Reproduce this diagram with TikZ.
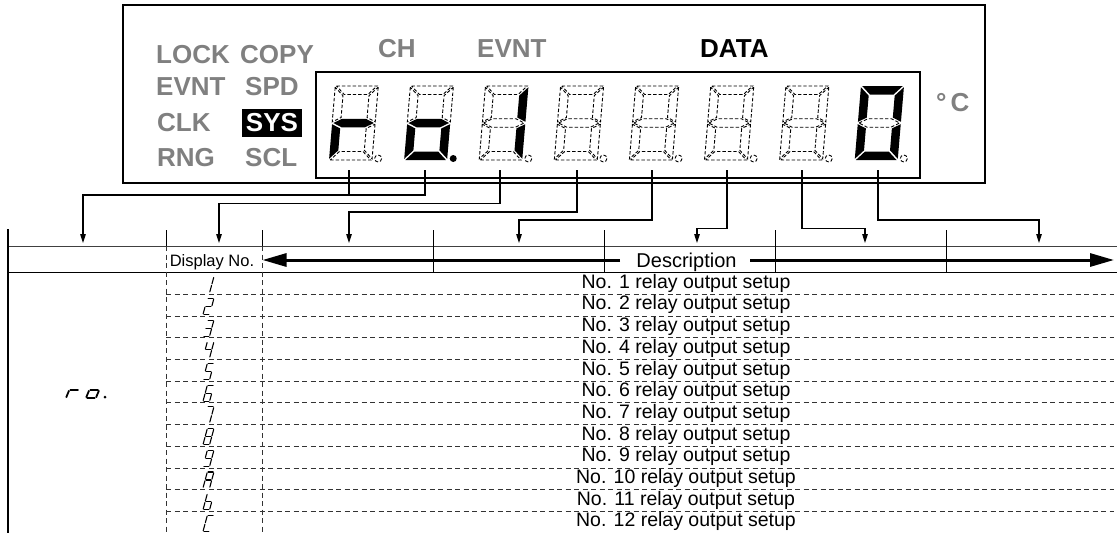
\documentclass[tikz,border=0pt]{standalone}
\usepackage{fontspec}
\setmainfont{Liberation Sans}
\usetikzlibrary{arrows.meta}
\definecolor{lcdgray}{RGB}{128,128,128}
% slanted point for big LCD digits (local y up)
\newcommand\lp[2]{({#1+0.085*(#2)},{-(#2)})}
% slanted point for small table glyphs
\newcommand\q[2]{({#1+0.27*(#2)},{-(#2)})}
\newcommand\SGa{\q{0.8}{16} -- \q{5.8}{16}}
\newcommand\SGb{\q{6.6}{15.2} -- \q{6.6}{8.8}}
\newcommand\SGc{\q{6.6}{7.2} -- \q{6.6}{0.8}}
\newcommand\SGd{\q{0.8}{0} -- \q{5.8}{0}}
\newcommand\SGe{\q{0}{7.2} -- \q{0}{0.8}}
\newcommand\SGf{\q{0}{15.2} -- \q{0}{8.8}}
\newcommand\SGg{\q{0.8}{8} -- \q{5.8}{8}}
\newcommand\tglyph[4][]{\begin{scope}[shift={(#2,#3)},glyphline,#1]\foreach \s in {#4}{\expandafter\draw\csname SG\s\endcsname;}\end{scope}}
% big LCD digit: x, a b c d e f g dp
\newcommand\lcddigit[9]{%
\begin{scope}[shift={(#1,160)}]
\path[#2] \lp{1.2}{74} -- \lp{41.8}{74} -- \lp{33.3}{65.5} -- \lp{9.7}{65.5} -- cycle;
\path[#3] \lp{43}{72.8} -- \lp{43}{38.2} -- \lp{34.5}{42.45} -- \lp{34.5}{64.3} -- cycle;
\path[#4] \lp{43}{35.8} -- \lp{43}{1.2} -- \lp{34.5}{9.7} -- \lp{34.5}{31.55} -- cycle;
\path[#5] \lp{1.2}{0} -- \lp{41.8}{0} -- \lp{33.3}{8.5} -- \lp{9.7}{8.5} -- cycle;
\path[#6] \lp{0}{35.8} -- \lp{0}{1.2} -- \lp{8.5}{9.7} -- \lp{8.5}{31.55} -- cycle;
\path[#7] \lp{0}{72.8} -- \lp{0}{38.2} -- \lp{8.5}{42.45} -- \lp{8.5}{64.3} -- cycle;
\path[#8] \lp{1.2}{37} -- \lp{9.7}{41.25} -- \lp{33.3}{41.25} -- \lp{41.8}{37} -- \lp{33.3}{32.75} -- \lp{9.7}{32.75} -- cycle;
\path[#9] \lp{49}{1.5} circle[radius=3.5];
\end{scope}}
\tikzset{
  lit/.style={fill=black},
  unlit/.style={draw=black, line width=0.9pt, dash pattern=on 3.4pt off 2pt},
  glyphline/.style={line width=1.1pt, line cap=round},
  lcdlabel/.style={font=\fontsize{26pt}{30pt}\selectfont\bfseries, text=lcdgray, inner sep=0pt, anchor=base west},
  lcdbox/.style={draw=black, line width=2pt},
  leader/.style={draw=black, line width=1.1pt},
  leaderarrow/.style={leader, -{Triangle[length=9pt,width=5.5pt]}},
  bigarrow/.style={draw=black, line width=3pt, -{Triangle[length=24pt,width=13pt]}},
  rowtext/.style={font=\fontsize{19.5pt}{22pt}\selectfont, inner sep=0pt, anchor=base},
  rowsep/.style={draw=black!80, line width=0.9pt, dash pattern=on 5pt off 3.5pt},
  colsep/.style={draw=black!80, line width=0.9pt, dash pattern=on 5pt off 3.5pt},
  gridline/.style={draw=black, line width=0.9pt},
}
\begin{document}
\begin{tikzpicture}[x=1pt,y=-1pt]
\useasboundingbox (0,0) rectangle (1117,533);
\fill[white] (0,0) rectangle (1117,533);

% ---------------- LCD panel ----------------
\draw[lcdbox] (123,5) rectangle (985,183);
\draw[lcdbox, line width=2.3pt] (316,72) rectangle (920,178);

\node[lcdlabel] (lock) at (156,63) {LOCK};
\node[lcdlabel] (copy) at (240,63) {COPY};
\node[lcdlabel] (evntl) at (156,95.5) {EVNT};
\node[lcdlabel] (spd) at (245,95.5) {SPD};
\node[lcdlabel] (clk) at (157,131.5) {CLK};
\node[fill=black, text=white, font=\fontsize{26pt}{30pt}\selectfont\bfseries, inner sep=0pt,
      minimum width=60pt, minimum height=28pt] (sys) at (272,123) {SYS};
\node[lcdlabel] (rng) at (157,166.5) {RNG};
\node[lcdlabel] (scl) at (245,166.5) {SCL};
\node[lcdlabel] (ch) at (378,57) {CH};
\node[lcdlabel] (evnt) at (477,57) {EVNT};
\node[lcdlabel, text=black] (data) at (700,57) {DATA};
\node[lcdlabel] (degc) at (936,111) {°\hspace{4pt}C};

% digits: a b c d e f g dp
\lcddigit{329}{unlit}{unlit}{unlit}{unlit}{lit}{unlit}{lit}{unlit}
\lcddigit{404.1}{unlit}{unlit}{lit}{lit}{lit}{unlit}{lit}{lit}
\lcddigit{479.2}{unlit}{lit}{lit}{unlit}{unlit}{unlit}{unlit}{unlit}
\lcddigit{554.3}{unlit}{unlit}{unlit}{unlit}{unlit}{unlit}{unlit}{unlit}
\lcddigit{629.4}{unlit}{unlit}{unlit}{unlit}{unlit}{unlit}{unlit}{unlit}
\lcddigit{704.5}{unlit}{unlit}{unlit}{unlit}{unlit}{unlit}{unlit}{unlit}
\lcddigit{779.6}{unlit}{unlit}{unlit}{unlit}{unlit}{unlit}{unlit}{unlit}
\lcddigit{854.7}{lit}{lit}{lit}{lit}{lit}{lit}{unlit}{unlit}

% ---------------- leaders ----------------
\coordinate (d1) at (349,170);
\coordinate (d2) at (425,170);
\coordinate (d3) at (500,170);
\coordinate (d4) at (577,170);
\coordinate (d5) at (652,170);
\coordinate (d6) at (727,170);
\coordinate (d7) at (802,170);
\coordinate (d8) at (878,170);
\coordinate (t1) at (83,243);
\coordinate (t2) at (219,243);
\coordinate (t3) at (349,243);
\coordinate (t4) at (519,243);
\coordinate (t5) at (697,243);
\coordinate (t6) at (865,243);
\coordinate (t7) at (1039,243);

\draw[leader] (d1) -- (d1 |- 0,195);
\draw[leaderarrow] (d2) -- (d2 |- 0,195) -| (t1);
\draw[leaderarrow] (d3) -- (d3 |- 0,203.3) -| (t2);
\draw[leaderarrow] (d4) -- (d4 |- 0,212) -| (t3);
\draw[leaderarrow] (d5) -- (d5 |- 0,220) -| (t4);
\draw[leaderarrow] (d6) -- (d6 |- 0,228.3) -| (t5);
\draw[leaderarrow] (d7) -- (d7 |- 0,228.3) -| (t6);
\draw[leaderarrow] (d8) -- (d8 |- 0,220) -| (t7);

% ---------------- table ----------------
\draw[draw=black!75, line width=0.8pt] (8,246) -- (1117,246);
\draw[gridline, line width=1.1pt] (8,272.7) -- (1117,272.7);
\draw[draw=black, line width=2pt] (8,229) -- (8,533);
\foreach \x in {166,262}{
  \draw[gridline] (\x,230) -- (\x,246);
  \draw[colsep] (\x,246) -- (\x,533);
}
\foreach \x in {433,604,775,946}{
  \draw[gridline] (\x,230) -- (\x,272.7);
}
\foreach \k in {1,...,11}{
  \draw[rowsep] (166,{272.7+21.7*\k}) -- (1114,{272.7+21.7*\k});
}

\node[font=\fontsize{16.5pt}{18pt}\selectfont, inner sep=0pt, anchor=base] (dispno) at (212,266) {Display No.};
\node[font=\fontsize{20pt}{22pt}\selectfont, inner sep=0pt, anchor=base] (desc) at (686.5,267) {Description};
\coordinate (descL) at (262.5,260);
\coordinate (descR) at (1114,260);
\coordinate (dl1) at (620,260);
\coordinate (dr1) at (750,260);
\draw[bigarrow] (dl1) -- (descL);
\draw[bigarrow] (dr1) -- (descR);

\foreach \k in {1,...,12}{
  \node[rowtext] (r\k) at (686,{272.7+21.7*(\k-1)+15.5}) {No. \k\ relay output setup};
}

% display numbers (7-segment glyphs)
\tglyph{203}{292.7}{b,c}
\tglyph{203}{314.4}{a,b,d,e,g}
\tglyph{203}{336.1}{a,b,c,d,g}
\tglyph{203}{357.8}{b,c,f,g}
\tglyph{203}{379.5}{a,c,d,f,g}
\tglyph{203}{401.2}{a,c,d,e,f,g}
\tglyph{203}{422.9}{a,b,c}
\tglyph{203}{444.6}{a,b,c,d,e,f,g}
\tglyph{203}{466.3}{a,b,c,d,f,g}
\tglyph{203}{488.0}{a,b,c,e,f,g}
\tglyph{203}{509.7}{c,d,e,f,g}
\tglyph{203}{531.4}{a,d,e,f}

% parameter "ro."
\tglyph[xscale=1.5, line width=1.8pt]{66}{398}{e,g}
\tglyph[xscale=1.5, line width=1.8pt]{86}{398}{c,d,e,g}
\fill (105,397) circle[radius=1.5];
\end{tikzpicture}
\end{document}
